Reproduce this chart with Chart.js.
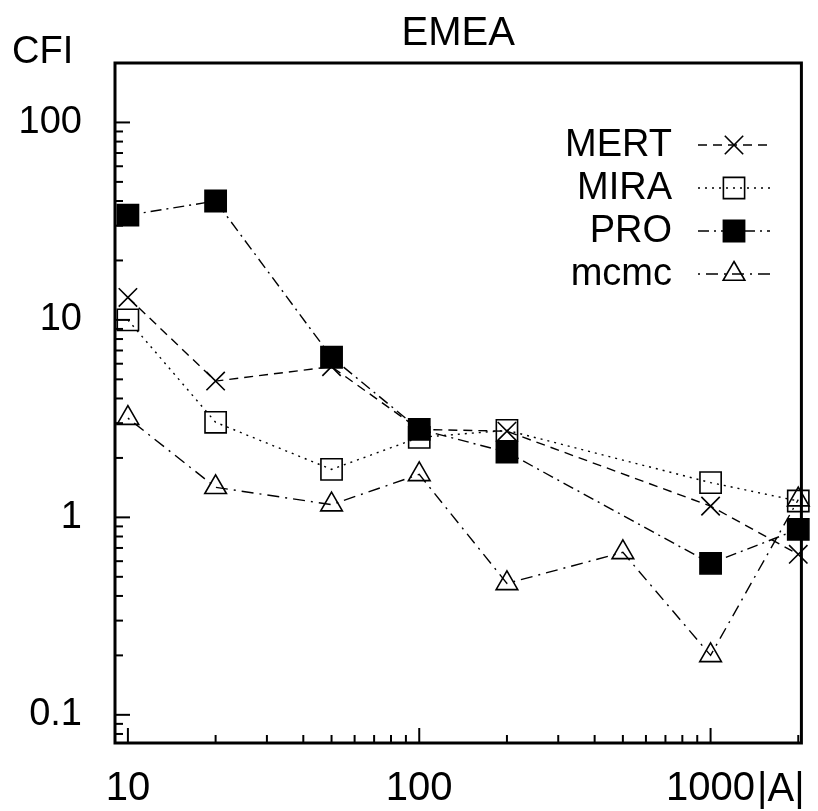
<!DOCTYPE html>
<html>
<head>
<meta charset="utf-8">
<title>EMEA CFI</title>
<script src="https://cdn.jsdelivr.net/npm/chart.js@4.4.1/dist/chart.umd.min.js"></script>
<style>
    html, body { margin: 0; padding: 0; background: #fff; }
    #wrap { width: 818px; height: 811px; }
</style>
</head>
<body>
<div id="wrap"><canvas id="chart"></canvas></div>
<script>
// |A| values (log axis)
const sizes = [10, 20, 50, 100, 200, 1000, 2000];
const mcmcSizes = [10, 20, 50, 100, 200, 500, 1000, 2000];

// CFI per system
const mert = [13.0, 4.9, 5.8, 2.79, 2.73, 1.14, 0.65];
const mira = [10.0, 3.03, 1.75, 2.54, 2.76, 1.50, 1.21];
const pro  = [33.9, 40.0, 6.47, 2.79, 2.14, 0.585, 0.87];
const mcmc = [3.18, 1.42, 1.16, 1.65, 0.463, 0.665, 0.20, 1.23];

const xTickValues = [10, 100, 1000];
const yTickValues = [0.1, 1, 10, 100];

const FONT = "'Liberation Sans', Arial, Helvetica, sans-serif";

function points(xs, ys) {
    return xs.map((x, i) => ({ x: x, y: ys[i] }));
}

function series(label, xs, ys, dash, style, radius, fill) {
    return {
        label: label,
        data: points(xs, ys),
        showLine: true,
        borderColor: "#000",
        borderWidth: 1.4,
        borderDash: dash,
        pointStyle: style,
        pointRadius: radius,
        pointHoverRadius: radius,
        pointBorderWidth: 1.6,
        pointBorderColor: "#000",
        pointBackgroundColor: fill,
        backgroundColor: fill,
        clip: false
    };
}

// inward tick marks, frame, extra labels and the gnuplot-like key
const decorations = {
    id: "decorations",
    afterDraw(chart) {
        const { ctx, chartArea: a, scales } = chart;
        const xs = scales.x, ys = scales.y;
        ctx.save();
        ctx.strokeStyle = "#000";
        ctx.lineWidth = 2;
        ctx.setLineDash([]);

        // y ticks on left border
        for (let d = -2; d <= 2; d++) {
            for (let m = 1; m <= 9; m++) {
                const v = m * Math.pow(10, d);
                const p = ys.getPixelForValue(v);
                if (p < a.top + 1 || p > a.bottom - 1) continue;
                const len = m === 1 ? 15 : 8;
                ctx.beginPath();
                ctx.moveTo(a.left, p);
                ctx.lineTo(a.left + len, p);
                ctx.stroke();
            }
        }
        // x ticks on bottom border
        for (let d = 0; d <= 3; d++) {
            for (let m = 1; m <= 9; m++) {
                const v = m * Math.pow(10, d);
                const p = xs.getPixelForValue(v);
                if (p < a.left + 1 || p > a.right - 1) continue;
                const len = m === 1 ? 15 : 8;
                ctx.beginPath();
                ctx.moveTo(p, a.bottom);
                ctx.lineTo(p, a.bottom - len);
                ctx.stroke();
            }
        }

        // frame
        ctx.lineWidth = 3;
        ctx.strokeRect(a.left, a.top, a.right - a.left, a.bottom - a.top);

        // title, y label, x label
        ctx.fillStyle = "#000";
        ctx.font = "40px " + FONT;
        ctx.textAlign = "center";
        ctx.textBaseline = "alphabetic";
        ctx.fillText("EMEA", (a.left + a.right) / 2, 45);
        ctx.font = "38px " + FONT;
        ctx.textAlign = "left";
        ctx.fillText("CFI", 12, 63);
        ctx.font = "40px " + FONT;
        const x1000 = xs.getPixelForValue(1000);
        const w1000 = ctx.measureText("1000").width;
        ctx.fillText("|A|", x1000 + w1000 / 2 + 2, 801);

        // key
        const keyTextX = 672, lineX0 = 698, lineX1 = 770, keyY0 = 145, keyStep = 43;
        chart.data.datasets.forEach((ds, i) => {
            const y = keyY0 + keyStep * i;
            ctx.font = "38px " + FONT;
            ctx.textAlign = "right";
            ctx.textBaseline = "middle";
            ctx.fillStyle = "#000";
            ctx.fillText(ds.label, keyTextX, y + 1);

            ctx.lineWidth = ds.borderWidth;
            ctx.setLineDash(ds.borderDash);
            ctx.beginPath();
            ctx.moveTo(lineX0, y);
            ctx.lineTo(lineX1, y);
            ctx.stroke();

            ctx.setLineDash([]);
            ctx.lineWidth = ds.pointBorderWidth;
            ctx.fillStyle = ds.pointBackgroundColor;
            Chart.helpers.drawPoint(ctx, {
                pointStyle: ds.pointStyle,
                radius: ds.pointRadius,
                rotation: 0,
                borderWidth: ds.pointBorderWidth
            }, (lineX0 + lineX1) / 2, y);
        });
        ctx.restore();
    }
};

new Chart(document.getElementById("chart"), {
    type: "scatter",
    data: {
        datasets: [
            series("MERT", sizes, mert, [9, 6], "crossRot", 13, "rgba(0,0,0,0)"),
            series("MIRA", sizes, mira, [2, 5], "rect", 15, "rgba(0,0,0,0)"),
            series("PRO", sizes, pro, [11, 5, 2, 5], "rect", 15, "#000"),
            series("mcmc", mcmcSizes, mcmc, [2, 6, 12, 6], "triangle", 12.5, "rgba(0,0,0,0)")
        ]
    },
    options: {
        responsive: true,
        maintainAspectRatio: false,
        animation: false,
        layout: { padding: { top: 63, right: 16, left: 0, bottom: 0 } },
        plugins: {
            legend: { display: false },
            title: { display: false },
            tooltip: { enabled: false }
        },
        scales: {
            x: {
                type: "logarithmic",
                min: 9.03,
                max: 2050,
                grid: { display: false, drawTicks: false },
                border: { display: false },
                afterBuildTicks: scale => {
                    scale.ticks = xTickValues.map(v => ({ value: v }));
                },
                afterFit: scale => { scale.height = 68; },
                ticks: {
                    autoSkip: false,
                    maxRotation: 0,
                    padding: 22,
                    color: "#000",
                    font: { family: FONT, size: 40 },
                    callback: value => String(value)
                }
            },
            y: {
                type: "logarithmic",
                min: 0.072,
                max: 200,
                grid: { display: false, drawTicks: false },
                border: { display: false },
                afterBuildTicks: scale => {
                    scale.ticks = yTickValues.map(v => ({ value: v }));
                },
                afterFit: scale => { scale.width = 115; },
                ticks: {
                    autoSkip: false,
                    padding: 33,
                    color: "#000",
                    font: { family: FONT, size: 38 },
                    callback: value => String(value)
                }
            }
        }
    },
    plugins: [decorations]
});
</script>
</body>
</html>
